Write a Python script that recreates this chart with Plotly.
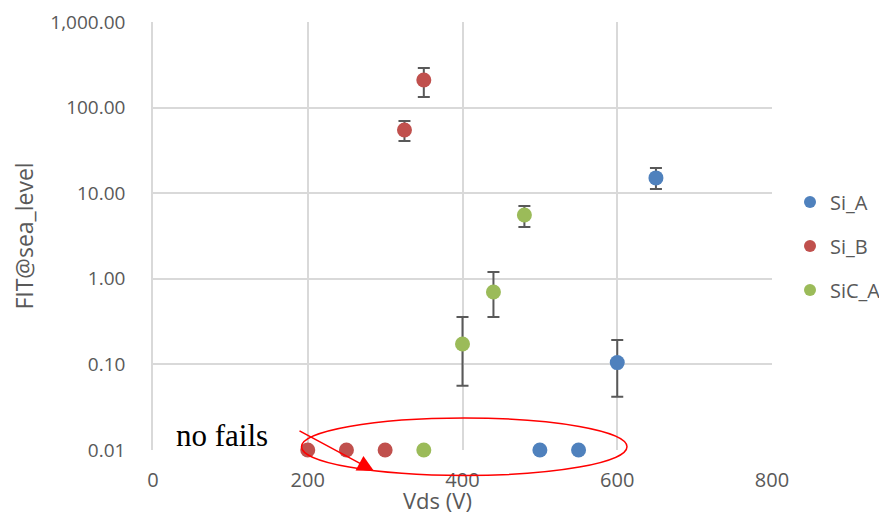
import plotly.graph_objects as go

# ---- data ----
si_a_x = [500, 550, 600, 650]
si_a_y = [0.01, 0.01, 0.105, 15.1]
si_a_hi = [0, 0, 0.193, 19.7]
si_a_lo = [0, 0, 0.042, 11.2]

si_b_x = [200, 250, 300, 325, 350]
si_b_y = [0.01, 0.01, 0.01, 54.7, 210]
si_b_hi = [0, 0, 0, 69.7, 290]
si_b_lo = [0, 0, 0, 40.7, 133]

sic_a_x = [350, 400, 440, 480]
sic_a_y = [0.01, 0.173, 0.70, 5.56]
sic_a_hi = [0, 0.358, 1.2, 7.1]
sic_a_lo = [0, 0.0564, 0.358, 4.03]

y_ticks = [0.01, 0.1, 1, 10, 100, 1000]
x_ticks = [0, 200, 400, 600, 800]

GREY = "#595959"
FONT = "Open Sans"

# plot-area geometry (px) used to place paper-referenced decorations
L, R, T, B = 153, 772, 22, 450
PW, PH = R - L, B - T


def px(x):
    return (x - L) / PW


def py(y):
    return (B - y) / PH


def errs(y, hi, lo):
    plus = [max(h - v, 0) if h else 0 for v, h in zip(y, hi)]
    minus = [max(v - l, 0) if l else 0 for v, l in zip(y, lo)]
    return plus, minus


fig = go.Figure()
series = [
    ("Si_A", si_a_x, si_a_y, si_a_hi, si_a_lo, "#4F81BD"),
    ("Si_B", si_b_x, si_b_y, si_b_hi, si_b_lo, "#C0504D"),
    ("SiC_A", sic_a_x, sic_a_y, sic_a_hi, sic_a_lo, "#9BBB59"),
]
for name, xs, ys, hi, lo, col in series:
    plus, minus = errs(ys, hi, lo)
    fig.add_trace(go.Scatter(
        x=xs, y=ys, mode="markers", name=name, legendgroup=name,
        marker=dict(size=15, color=col), cliponaxis=False,
        error_y=dict(type="data", symmetric=False, array=plus, arrayminus=minus,
                     color=GREY, thickness=2, width=6),
    ))

# ellipse (red outline) around "no fails" points
fig.add_shape(type="circle", xref="paper", yref="paper",
              x0=px(301.5), x1=px(627), y0=py(475.5), y1=py(418),
              line=dict(color="#FF0000", width=1.5), layer="above")

# arrow
fig.add_annotation(xref="paper", yref="paper", x=px(374), y=py(471),
                   ax=-76, ay=-41, text="", showarrow=True, arrowhead=2,
                   arrowsize=2.2, arrowwidth=1.5, arrowcolor="#FF0000")

fig.add_annotation(xref="paper", yref="paper", x=px(221.5), y=py(435),
                   text="no fails", showarrow=False,
                   font=dict(family="Liberation Serif", size=31, color="black"),
                   xanchor="center", yanchor="middle")

fig.add_annotation(xref="paper", yref="paper", x=px(437), y=py(500),
                   text="Vds (V)", showarrow=False,
                   font=dict(family=FONT, size=22, color=GREY),
                   xanchor="center", yanchor="middle")

fig.update_layout(
    width=879, height=515,
    margin=dict(l=L, r=879 - R, t=T, b=515 - B, autoexpand=False),
    paper_bgcolor="white", plot_bgcolor="white",
    font=dict(family=FONT, color=GREY, size=19),
    legend=dict(x=px(790), y=py(246), xanchor="left", yanchor="middle",
                font=dict(family=FONT, size=20, color=GREY),
                tracegroupgap=15, itemsizing="constant"),
    showlegend=True,
)
fig.update_xaxes(range=[0, 800], tickvals=x_ticks, ticktext=[str(v) for v in x_ticks],
                 showgrid=True, gridcolor="#D9D9D9", gridwidth=1.5,
                 zeroline=False, showline=False, ticks="", automargin=False,
                 tickfont=dict(family=FONT, size=20, color=GREY),
                 ticklabelstandoff=16)
fig.update_yaxes(type="log", range=[-2, 3], tickvals=y_ticks,
                 ticktext=[f"{v:,.2f}" for v in y_ticks],
                 showgrid=True, gridcolor="#D9D9D9", gridwidth=1.5,
                 zeroline=False, showline=True, linecolor="#D9D9D9", linewidth=1.5,
                 ticks="", automargin=False,
                 tickfont=dict(family=FONT, size=19, color=GREY),
                 ticklabelstandoff=22,
                 title=dict(text="FIT@sea_level", font=dict(family=FONT, size=23, color=GREY),
                            standoff=10))

fig.write_html("out.html", config={"displayModeBar": False})

# remove the default browser page margin so the figure sits at the window origin
with open("out.html", "r", encoding="utf-8") as f:
    html = f.read()
html = html.replace("<head>", "<head><style>html,body{margin:0;padding:0;overflow:hidden;}</style>", 1)
with open("out.html", "w", encoding="utf-8") as f:
    f.write(html)
